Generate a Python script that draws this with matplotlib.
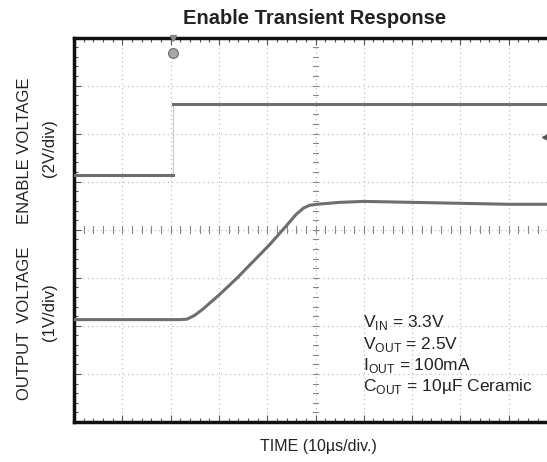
import matplotlib
matplotlib.use("Agg")
import matplotlib.pyplot as plt
import numpy as np

plt.rcParams['font.family'] = ['Liberation Sans', 'DejaVu Sans']
plt.rcParams['mathtext.fontset'] = 'custom'
plt.rcParams['mathtext.rm'] = 'Liberation Sans'

# scope traces, in divisions (x: 10us/div, y: screen divisions from bottom)
enableTime = [0.0, 2.05, 2.05, 10.5]
enableLevel = [5.13, 5.13, 6.61, 6.61]

outTime = [0.0, 2.2, 2.34, 2.5, 2.67, 3.0, 3.37, 3.7, 4.06, 4.35, 4.6, 4.75, 4.88, 5.03, 5.5, 6.0, 7.0, 8.0, 9.0, 10.5]
outLevel = [2.13, 2.13, 2.14, 2.22, 2.35, 2.64, 2.99, 3.33, 3.70, 4.03, 4.32, 4.45, 4.51, 4.53, 4.57, 4.59, 4.57, 4.55, 4.53, 4.53]

conditions = [r"V$_{\mathregular{IN}}$ = 3.3V",
              r"V$_{\mathregular{OUT}}$ = 2.5V",
              r"I$_{\mathregular{OUT}}$ = 100mA",
              r"C$_{\mathregular{OUT}}$ = 10µF Ceramic"]

traceColor = "#6e6e6e"
gridColor = "#b4b4b4"
textColor = "#222222"

fig = plt.figure(figsize=(5.47, 4.62), dpi=100)
ax = fig.add_axes([74 / 547, 1 - 422 / 462, 483 / 547, 384.5 / 462])
ax.set_xlim(0, 10)
ax.set_ylim(0, 8)

# graticule
for gx in range(1, 10):
    ax.axvline(gx, color=gridColor, lw=0.8, ls=(0, (1, 3)), zorder=1)
for gy in range(1, 8):
    ax.axhline(gy, color=gridColor, lw=0.8, ls=(0, (1, 3)), zorder=1)
for t in np.arange(0.2, 10, 0.2):
    ax.plot([t, t], [3.93, 4.07], color="#888888", lw=0.8, zorder=1)
for t in np.arange(0.2, 8, 0.2):
    ax.plot([4.95, 5.05], [t, t], color="#888888", lw=0.8, zorder=1)

ax.set_xticks(np.arange(0, 10.01, 1))
ax.set_yticks(np.arange(0, 8.01, 1))
ax.set_xticks(np.arange(0, 10.01, 0.2), minor=True)
ax.set_yticks(np.arange(0, 8.01, 0.2), minor=True)
ax.tick_params(which='both', direction='in', top=True, right=True,
               labelbottom=False, labelleft=False, color="#555555")
ax.tick_params(which='major', length=5, width=0.8)
ax.tick_params(which='minor', length=3, width=0.8)
for s in ax.spines.values():
    s.set_linewidth(2.5)
    s.set_color("#111111")

# traces: enable edge is fast, so the vertical part shows only faintly
ax.plot(enableTime[:2], enableLevel[:2], color=traceColor, lw=2.2, zorder=3)
ax.plot(enableTime[2:], enableLevel[2:], color=traceColor, lw=2.2, zorder=3)
ax.plot(enableTime[1:3], enableLevel[1:3], color="#c8c8c8", lw=0.8, zorder=2)
ax.plot(outTime, outLevel, color=traceColor, lw=2.2, zorder=3, solid_capstyle='round')

# trigger / channel markers
ax.plot([2.05], [7.67], marker='o', ms=7, mfc="#a8a8a8", mec="#666666", mew=0.8, zorder=4, clip_on=False)
ax.plot([2.05], [7.98], marker='v', ms=4, mfc="#888888", mec="#888888", zorder=4, clip_on=False)
ax.plot([9.78], [5.93], marker='<', ms=6, mfc="#555555", mec="#555555", zorder=4)

for i, line in enumerate(conditions):
    ax.text(5.98, 2.06 - i * 0.44, line, fontsize=12.5, color=textColor,
            va='center', ha='left', zorder=5)

fig.text(315 / 547, 1 - 19 / 462, "Enable Transient Response", fontsize=14.5,
         fontweight='bold', ha='center', va='center', color=textColor)
fig.text(318 / 547, 1 - 447 / 462, "TIME (10µs/div.)", fontsize=11.5,
         ha='center', va='center', color=textColor)
fig.text(25 / 547, 1 - 151 / 462, "ENABLE VOLTAGE", fontsize=12, rotation=90,
         ha='center', va='center', color=textColor)
fig.text(49 / 547, 1 - 148 / 462, "(2V/div)", fontsize=12, rotation=90,
         ha='center', va='center', color=textColor)
fig.text(25 / 547, 1 - 323 / 462, "OUTPUT  VOLTAGE", fontsize=12, rotation=90,
         ha='center', va='center', color=textColor)
fig.text(49 / 547, 1 - 312 / 462, "(1V/div)", fontsize=12, rotation=90,
         ha='center', va='center', color=textColor)

fig.savefig("out.png", dpi=100)
